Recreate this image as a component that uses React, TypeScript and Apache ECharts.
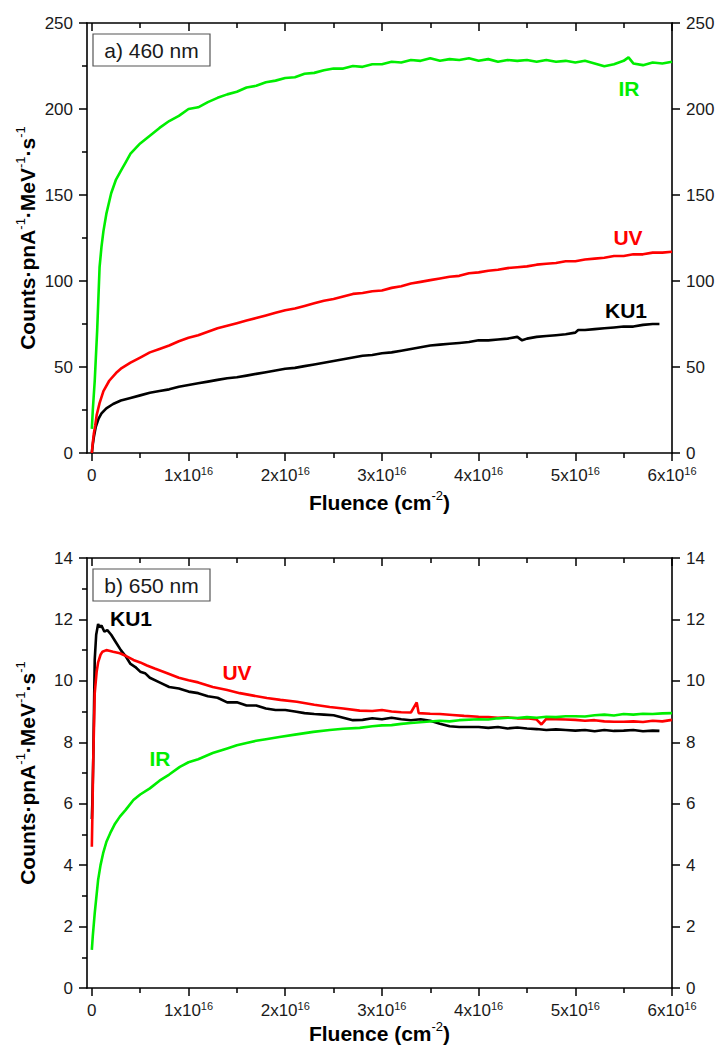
import React, { useEffect, useRef } from 'react';
import * as echarts from 'echarts';

// ---------- data (fluence in units of 1e16 cm^-2) ----------
const xMajorTicks = [0, 1, 2, 3, 4, 5, 6];
const xMinorTicks = [0.5, 1.5, 2.5, 3.5, 4.5, 5.5];

// panel a) 460 nm
const fluA_IR = [0, 0.01, 0.03, 0.055, 0.08, 0.1, 0.12, 0.15, 0.2, 0.25, 0.3, 0.35, 0.4, 0.5, 0.6, 0.7, 0.8, 0.9, 1.0, 1.1, 1.2, 1.3, 1.4, 1.5, 1.6, 1.7, 1.8, 1.9, 2.0, 2.1, 2.2, 2.3, 2.4, 2.5, 2.6, 2.7, 2.8, 2.9, 3.0, 3.1, 3.2, 3.3, 3.4, 3.5, 3.6, 3.7, 3.8, 3.9, 4.0, 4.1, 4.2, 4.3, 4.4, 4.5, 4.6, 4.7, 4.8, 4.9, 5.0, 5.1, 5.2, 5.3, 5.4, 5.5, 5.55, 5.6, 5.7, 5.8, 5.9, 6.0];
const cntA_IR = [14, 25, 42, 71, 108, 120, 129, 139, 151, 159, 164, 169, 174, 180, 184.5, 189, 193, 196, 200, 201, 204, 206.5, 208.5, 210, 212.5, 213.5, 215.5, 216.5, 218, 218.5, 220.5, 221, 222.5, 223.5, 223.5, 225, 224.5, 226, 226, 227.5, 227, 228.5, 228, 229.5, 228, 229, 228.5, 229.5, 228, 229, 227.5, 228.5, 228, 228.5, 227.5, 228.5, 227.5, 228, 227, 228, 226.5, 224.8, 226, 228, 230, 226.5, 225.5, 227, 226.5, 227.5];

const fluA_UV = [0, 0.01, 0.02, 0.035, 0.05, 0.08, 0.12, 0.18, 0.25, 0.3, 0.4, 0.5, 0.6, 0.7, 0.8, 0.9, 1.0, 1.1, 1.2, 1.3, 1.4, 1.5, 1.6, 1.7, 1.8, 1.9, 2.0, 2.1, 2.2, 2.3, 2.4, 2.5, 2.6, 2.7, 2.8, 2.9, 3.0, 3.1, 3.2, 3.3, 3.4, 3.5, 3.6, 3.7, 3.8, 3.9, 4.0, 4.1, 4.2, 4.3, 4.4, 4.5, 4.6, 4.7, 4.8, 4.9, 5.0, 5.1, 5.2, 5.3, 5.4, 5.5, 5.6, 5.7, 5.8, 5.9, 6.0];
const cntA_UV = [0, 6, 11, 16, 22, 29, 36, 42, 46.5, 49, 52.5, 55.5, 58.5, 60.5, 62.5, 65, 67, 68.5, 70.5, 72.5, 74, 75.5, 77, 78.5, 80, 81.5, 83, 84, 85.5, 87, 88.5, 89.5, 91, 92.5, 93, 94, 94.5, 96, 97, 98.5, 99.5, 100.5, 101.5, 102.5, 103, 104.5, 105, 106, 106.5, 107.5, 108, 108.5, 109.5, 110, 110.5, 111.5, 111.5, 112.5, 113, 113.5, 114.5, 114.5, 115.5, 115.5, 116.5, 116.5, 117];

const fluA_KU1 = [0, 0.01, 0.02, 0.04, 0.07, 0.1, 0.15, 0.22, 0.3, 0.4, 0.5, 0.6, 0.7, 0.8, 0.9, 1.0, 1.1, 1.2, 1.3, 1.4, 1.5, 1.6, 1.7, 1.8, 1.9, 2.0, 2.1, 2.2, 2.3, 2.4, 2.5, 2.6, 2.7, 2.8, 2.9, 3.0, 3.1, 3.2, 3.3, 3.4, 3.5, 3.6, 3.7, 3.8, 3.9, 4.0, 4.1, 4.2, 4.3, 4.4, 4.45, 4.5, 4.6, 4.7, 4.8, 4.9, 5.0, 5.03, 5.1, 5.2, 5.3, 5.4, 5.5, 5.6, 5.7, 5.8, 5.87];
const cntA_KU1 = [0, 5, 9, 15, 20, 23, 26, 28.5, 30.5, 32, 33.5, 35, 36, 37, 38.5, 39.5, 40.5, 41.5, 42.5, 43.5, 44, 45, 46, 47, 48, 49, 49.5, 50.5, 51.5, 52.5, 53.5, 54.5, 55.5, 56.5, 57, 58, 58.5, 59.5, 60.5, 61.5, 62.5, 63, 63.5, 64, 64.5, 65.5, 65.5, 66, 66.5, 67.5, 65.5, 66.5, 67.5, 68, 68.5, 69, 70, 71.5, 71.5, 72, 72.5, 73, 73.5, 73.5, 74.5, 75, 75];

// panel b) 650 nm
const fluB_KU1 = [0, 0.005, 0.015, 0.03, 0.045, 0.065, 0.08, 0.1, 0.13, 0.16, 0.2, 0.25, 0.3, 0.35, 0.4, 0.45, 0.5, 0.55, 0.6, 0.7, 0.8, 0.9, 1.0, 1.1, 1.2, 1.3, 1.4, 1.5, 1.6, 1.7, 1.8, 1.9, 2.0, 2.1, 2.2, 2.3, 2.4, 2.5, 2.6, 2.7, 2.8, 2.9, 3.0, 3.1, 3.2, 3.3, 3.4, 3.5, 3.6, 3.7, 3.8, 3.9, 4.0, 4.1, 4.2, 4.3, 4.4, 4.5, 4.6, 4.7, 4.8, 4.9, 5.0, 5.1, 5.2, 5.3, 5.4, 5.5, 5.6, 5.7, 5.8, 5.87];
const cntB_KU1 = [5.5, 6, 7.5, 10.7, 11.5, 11.85, 11.75, 11.8, 11.6, 11.65, 11.5, 11.25, 11.0, 10.8, 10.55, 10.45, 10.3, 10.25, 10.1, 9.95, 9.8, 9.75, 9.65, 9.6, 9.5, 9.45, 9.3, 9.3, 9.2, 9.2, 9.1, 9.05, 9.05, 9.0, 8.95, 8.92, 8.9, 8.88, 8.8, 8.72, 8.73, 8.78, 8.75, 8.8, 8.75, 8.72, 8.75, 8.7, 8.6, 8.52, 8.5, 8.5, 8.5, 8.47, 8.5, 8.45, 8.48, 8.45, 8.43, 8.4, 8.42, 8.4, 8.38, 8.4, 8.36, 8.4, 8.37, 8.38, 8.4, 8.36, 8.38, 8.37];

const fluB_UV = [0, 0.005, 0.015, 0.03, 0.05, 0.065, 0.09, 0.11, 0.15, 0.18, 0.22, 0.29, 0.36, 0.43, 0.5, 0.57, 0.65, 0.78, 0.9, 1.0, 1.1, 1.25, 1.4, 1.53, 1.67, 1.81, 1.95, 2.12, 2.3, 2.46, 2.6, 2.77, 2.9, 3.0, 3.1, 3.2, 3.3, 3.36, 3.38, 3.5, 3.6, 3.73, 3.85, 4.0, 4.1, 4.2, 4.3, 4.4, 4.5, 4.6, 4.65, 4.7, 4.8, 4.9, 5.0, 5.1, 5.2, 5.3, 5.4, 5.5, 5.6, 5.7, 5.8, 5.9, 6.0];
const cntB_UV = [4.6, 5.5, 7.5, 9.6, 10.3, 10.6, 10.85, 10.95, 11.0, 10.98, 10.95, 10.9, 10.8, 10.68, 10.6, 10.5, 10.4, 10.25, 10.1, 10.02, 9.95, 9.8, 9.7, 9.6, 9.52, 9.44, 9.38, 9.32, 9.22, 9.15, 9.1, 9.03, 9.02, 9.05, 9.0, 8.98, 8.97, 9.3, 8.95, 8.93, 8.92, 8.89, 8.86, 8.83, 8.82, 8.8, 8.81, 8.78, 8.78, 8.74, 8.58, 8.76, 8.75, 8.74, 8.73, 8.7, 8.72, 8.68, 8.67, 8.67, 8.68, 8.66, 8.7, 8.68, 8.73];

const fluB_IR = [0, 0.01, 0.03, 0.065, 0.09, 0.117, 0.15, 0.19, 0.24, 0.29, 0.35, 0.43, 0.5, 0.6, 0.7, 0.8, 0.91, 1.0, 1.1, 1.25, 1.4, 1.5, 1.6, 1.7, 1.8, 1.94, 2.1, 2.29, 2.46, 2.6, 2.77, 2.9, 3.0, 3.1, 3.2, 3.3, 3.46, 3.6, 3.7, 3.8, 4.0, 4.1, 4.2, 4.3, 4.4, 4.5, 4.6, 4.7, 4.8, 4.9, 5.0, 5.1, 5.2, 5.3, 5.4, 5.5, 5.6, 5.7, 5.8, 5.9, 6.0];
const cntB_IR = [1.24, 1.7, 2.44, 3.52, 4.0, 4.39, 4.75, 5.04, 5.35, 5.58, 5.8, 6.12, 6.3, 6.5, 6.75, 6.95, 7.2, 7.35, 7.45, 7.65, 7.8, 7.9, 7.98, 8.05, 8.1, 8.17, 8.25, 8.34, 8.4, 8.44, 8.47, 8.52, 8.55, 8.56, 8.6, 8.63, 8.67, 8.7, 8.68, 8.72, 8.75, 8.74, 8.78, 8.8, 8.79, 8.82, 8.8, 8.83, 8.82, 8.85, 8.85, 8.84, 8.88, 8.9, 8.87, 8.92, 8.9, 8.93, 8.92, 8.94, 8.95];

const panelLabels = ['a) 460 nm', 'b) 650 nm'];
const seriesNames = ['KU1', 'UV', 'IR'];

// ---------- styling ----------
const FONT = '"Liberation Sans", Arial, Helvetica, sans-serif';
const INK = '#1a1a1a';
const GREEN = '#00ee00';
const RED = '#ff0000';
const BLACK = '#000000';
const X_MIN = -0.05;
const X_MAX = 6;
const GRID_LEFT = 87;
const GRID_W = 585;
const GRID_H = 430;
const GRID_TOPS = [23, 558];

const axisLineStyle = { color: '#000', width: 1.6 };
const tickLineStyle = { color: '#000', width: 1.5 };

const xLabelRich = {
  n: { fontSize: 17, fontFamily: FONT, color: INK, lineHeight: 20 },
  s: { fontSize: 11, fontFamily: FONT, color: INK, lineHeight: 11, verticalAlign: 'top' },
};

function xAxesFor(grid: number) {
  const base = {
    type: 'value',
    gridIndex: grid,
    min: X_MIN,
    max: X_MAX,
    splitLine: { show: false },
  };
  return [
    {
      ...base,
      position: 'bottom',
      axisLine: { show: true, onZero: false, lineStyle: axisLineStyle },
      axisTick: { show: true, inside: false, length: 8, customValues: xMajorTicks, lineStyle: tickLineStyle },
      axisLabel: {
        show: true,
        customValues: xMajorTicks,
        margin: 12,
        fontSize: 17,
        fontFamily: FONT,
        color: INK,
        formatter: (v: number) => (v === 0 ? '{n|0}' : `{n|${v}x10}{s|16}`),
        rich: xLabelRich,
      },
    },
    {
      ...base,
      position: 'bottom',
      axisLine: { show: false, onZero: false },
      axisTick: { show: true, inside: false, length: 5, customValues: xMinorTicks, lineStyle: tickLineStyle },
      axisLabel: { show: false },
    },
    {
      ...base,
      position: 'top',
      axisLine: { show: true, onZero: false, lineStyle: axisLineStyle },
      axisTick: { show: true, inside: true, length: 8, customValues: xMajorTicks, lineStyle: tickLineStyle },
      axisLabel: { show: false },
    },
    {
      ...base,
      position: 'top',
      axisLine: { show: false, onZero: false },
      axisTick: { show: true, inside: true, length: 5, customValues: xMinorTicks, lineStyle: tickLineStyle },
      axisLabel: { show: false },
    },
  ];
}

function yAxesFor(grid: number, max: number, interval: number) {
  const base = {
    type: 'value',
    gridIndex: grid,
    min: 0,
    max,
    interval,
    splitLine: { show: false },
    minorSplitLine: { show: false },
    axisLine: { show: true, onZero: false, lineStyle: axisLineStyle },
    axisTick: { show: true, inside: false, length: 8, lineStyle: tickLineStyle },
  };
  return [
    {
      ...base,
      position: 'left',
      minorTick: { show: true, splitNumber: 2, length: 5, lineStyle: tickLineStyle },
      axisLabel: { show: true, fontSize: 17, fontFamily: FONT, color: INK, margin: 14 },
    },
    {
      ...base,
      position: 'right',
      minorTick: { show: false },
      axisLabel: { show: true, fontSize: 17, fontFamily: FONT, color: INK, margin: 14 },
    },
  ];
}

function lineSeries(name: string, xs: number[], ys: number[], color: string, grid: number, z: number) {
  return {
    type: 'line',
    name,
    data: xs.map((x, i) => [x, ys[i]]),
    xAxisIndex: grid * 4,
    yAxisIndex: grid * 2,
    showSymbol: false,
    symbol: 'none',
    silent: true,
    z,
    lineStyle: { color, width: 2.6 },
    itemStyle: { color },
  };
}

const titleRich = {
  b: { fontSize: 21, fontWeight: 'bold', fontFamily: FONT, color: INK, lineHeight: 26 },
  s: { fontSize: 13, fontWeight: 'normal', fontFamily: FONT, color: INK, lineHeight: 13, verticalAlign: 'top' },
};

function yTitle(cy: number) {
  return {
    type: 'text',
    x: 27,
    y: cy,
    rotation: Math.PI / 2,
    silent: true,
    style: {
      text: '{b|Counts·pnA}{s|-1}{b|·MeV}{s|-1}{b|·s}{s|-1}',
      rich: titleRich,
      align: 'center',
      verticalAlign: 'middle',
    },
  };
}

function xTitle(cy: number) {
  return {
    type: 'text',
    x: GRID_LEFT + GRID_W / 2,
    y: cy,
    silent: true,
    style: {
      text: '{b|Fluence (cm}{s|-2}{b|)}',
      rich: titleRich,
      align: 'center',
      verticalAlign: 'middle',
    },
  };
}

function panelBox(label: string, top: number) {
  return [
    {
      type: 'rect',
      shape: { x: 93, y: top, width: 117, height: 32 },
      silent: true,
      style: { fill: '#fff', stroke: '#555', lineWidth: 1.2 },
      z: 10,
    },
    {
      type: 'text',
      x: 151.5,
      y: top + 16.5,
      silent: true,
      z: 11,
      style: {
        text: label,
        fontSize: 21,
        fontFamily: FONT,
        fill: INK,
        align: 'center',
        verticalAlign: 'middle',
      },
    },
  ];
}

function seriesTag(text: string, x: number, y: number, color: string) {
  return {
    type: 'text',
    x,
    y,
    silent: true,
    z: 12,
    style: {
      text,
      fontSize: 21,
      fontWeight: 'bold',
      fontFamily: FONT,
      fill: color,
      align: 'center',
      verticalAlign: 'middle',
    },
  };
}

const option = {
  animation: false,
  backgroundColor: '#ffffff',
  textStyle: { fontFamily: FONT },
  grid: GRID_TOPS.map((top) => ({
    left: GRID_LEFT,
    top,
    width: GRID_W,
    height: GRID_H,
    containLabel: false,
    outerBoundsMode: 'none',
  })),
  xAxis: [...xAxesFor(0), ...xAxesFor(1)],
  yAxis: [...yAxesFor(0, 250, 50), ...yAxesFor(1, 14, 2)],
  series: [
    lineSeries(seriesNames[0], fluA_KU1, cntA_KU1, BLACK, 0, 2),
    lineSeries(seriesNames[1], fluA_UV, cntA_UV, RED, 0, 3),
    lineSeries(seriesNames[2], fluA_IR, cntA_IR, GREEN, 0, 4),
    lineSeries(seriesNames[0], fluB_KU1, cntB_KU1, BLACK, 1, 2),
    lineSeries(seriesNames[1], fluB_UV, cntB_UV, RED, 1, 3),
    lineSeries(seriesNames[2], fluB_IR, cntB_IR, GREEN, 1, 4),
  ],
  graphic: [
    yTitle(GRID_TOPS[0] + GRID_H / 2),
    yTitle(GRID_TOPS[1] + GRID_H / 2),
    xTitle(502),
    xTitle(1033),
    ...panelBox(panelLabels[0], 34),
    ...panelBox(panelLabels[1], 569),
    seriesTag('IR', 629, 88, GREEN),
    seriesTag('UV', 628, 237, RED),
    seriesTag('KU1', 626, 310, BLACK),
    seriesTag('KU1', 131, 618, BLACK),
    seriesTag('UV', 237, 672, RED),
    seriesTag('IR', 160, 758, GREEN),
  ],
};

export default function App() {
  const ref = useRef<HTMLDivElement>(null);
  useEffect(() => {
    if (!ref.current) return;
    const chart = echarts.init(ref.current, null, { renderer: 'svg' });
    chart.setOption(option as any);
    return () => chart.dispose();
  }, []);
  return (
    <div
      ref={ref}
      style={{ position: 'fixed', left: 0, top: 0, width: 717, height: 1048, background: '#fff' }}
    />
  );
}
